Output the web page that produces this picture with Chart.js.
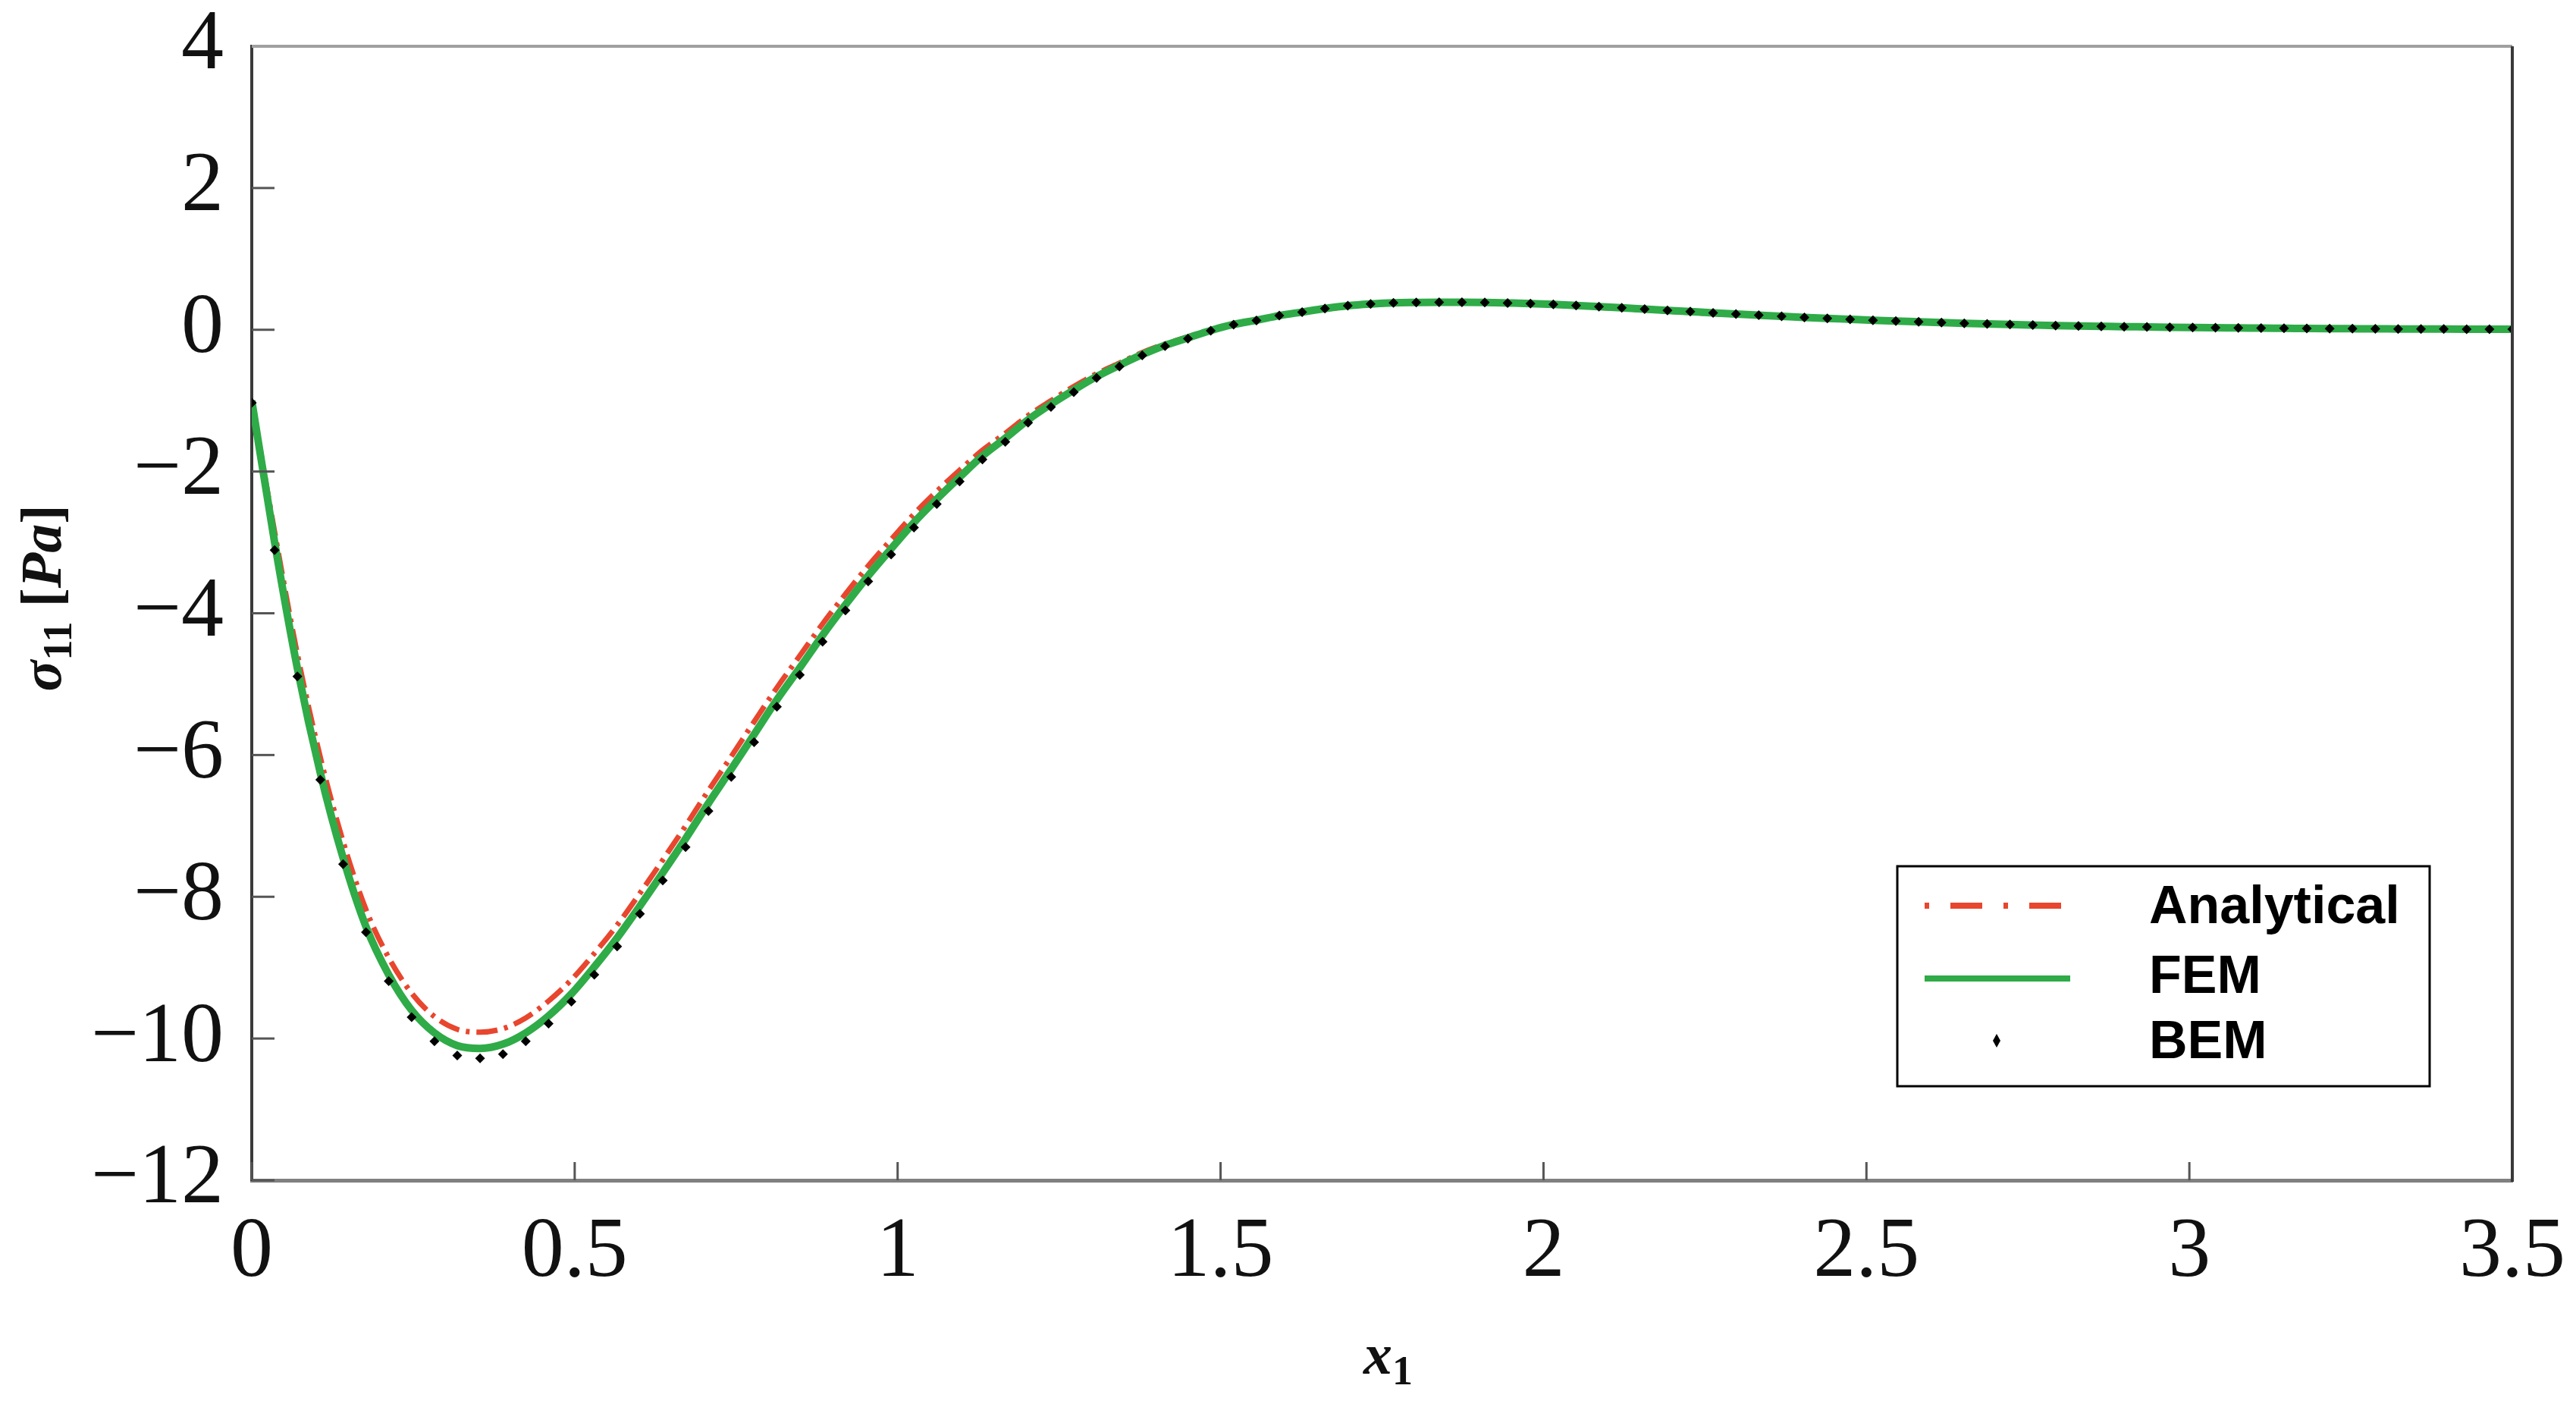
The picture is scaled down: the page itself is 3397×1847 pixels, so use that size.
<!DOCTYPE html>
<html>
<head>
<meta charset="utf-8">
<title>sigma11 along x1</title>
<script src="https://cdn.jsdelivr.net/npm/chart.js@4.4.0/dist/chart.umd.min.js"></script>
<style>
  body { margin: 0; background: #ffffff; }
  #canvas-stress { display: block; }
</style>
</head>
<body>
<canvas id="canvas-stress" width="3397" height="1847"></canvas>
<script>
// sample positions along x1 (BEM nodes, also used for the two curves)
const xPositions = [
    0, 0.0354, 0.0707, 0.1061, 0.1414, 0.1768, 0.2121, 0.2475, 0.2828, 0.3182,
    0.3535, 0.3889, 0.4242, 0.4596, 0.4949, 0.5303, 0.5657, 0.6010, 0.6364, 0.6717,
    0.7071, 0.7424, 0.7778, 0.8131, 0.8485, 0.8838, 0.9192, 0.9545, 0.9899, 1.0253,
    1.0606, 1.0960, 1.1313, 1.1667, 1.2020, 1.2374, 1.2727, 1.3081, 1.3434, 1.3788,
    1.4141, 1.4495, 1.4848, 1.5202, 1.5556, 1.5909, 1.6263, 1.6616, 1.6970, 1.7323,
    1.7677, 1.8030, 1.8384, 1.8737, 1.9091, 1.9444, 1.9798, 2.0152, 2.0505, 2.0859,
    2.1212, 2.1566, 2.1919, 2.2273, 2.2626, 2.2980, 2.3333, 2.3687, 2.4040, 2.4394,
    2.4747, 2.5101, 2.5455, 2.5808, 2.6162, 2.6515, 2.6869, 2.7222, 2.7576, 2.7929,
    2.8283, 2.8636, 2.8990, 2.9343, 2.9697, 3.0051, 3.0404, 3.0758, 3.1111, 3.1465,
    3.1818, 3.2172, 3.2525, 3.2879, 3.3232, 3.3586, 3.3939, 3.4293, 3.4646, 3.5
];

const analyticalValues = [
    -1.00, -2.85, -4.58, -6.03, -7.22, -8.18, -8.86, -9.36, -9.69, -9.87,
    -9.91, -9.86, -9.71, -9.47, -9.17, -8.80, -8.40, -7.95, -7.48, -7.00,
    -6.50, -6.02, -5.53, -5.05, -4.60, -4.15, -3.73, -3.33, -2.96, -2.60,
    -2.28, -1.98, -1.70, -1.46, -1.21, -1.00, -0.80, -0.62, -0.47, -0.32,
    -0.20, -0.10, 0.0, 0.08, 0.14, 0.20, 0.245, 0.29, 0.33, 0.355,
    0.37, 0.377, 0.38, 0.38, 0.377, 0.37, 0.36, 0.347, 0.332, 0.315,
    0.298, 0.28, 0.262, 0.244, 0.227, 0.21, 0.195, 0.18, 0.166, 0.152,
    0.14, 0.128, 0.116, 0.105, 0.095, 0.086, 0.078, 0.07, 0.063, 0.057,
    0.051, 0.046, 0.041, 0.037, 0.033, 0.03, 0.027, 0.024, 0.022, 0.02,
    0.018, 0.016, 0.014, 0.013, 0.012, 0.011, 0.01, 0.009, 0.008, 0.007
];

const femValues = [
    -1.00, -3.00, -4.78, -6.25, -7.45, -8.42, -9.10, -9.60, -9.92, -10.10,
    -10.14, -10.08, -9.92, -9.68, -9.37, -8.99, -8.58, -8.13, -7.66, -7.18,
    -6.68, -6.20, -5.71, -5.22, -4.77, -4.31, -3.88, -3.47, -3.09, -2.72,
    -2.39, -2.08, -1.78, -1.53, -1.27, -1.05, -0.85, -0.66, -0.50, -0.35,
    -0.22, -0.115, -0.01, 0.075, 0.135, 0.20, 0.25, 0.30, 0.34, 0.364,
    0.38, 0.385, 0.388, 0.388, 0.385, 0.378, 0.37, 0.358, 0.343, 0.327,
    0.31, 0.292, 0.274, 0.256, 0.238, 0.222, 0.206, 0.19, 0.175, 0.161,
    0.148, 0.135, 0.123, 0.112, 0.101, 0.091, 0.082, 0.074, 0.067, 0.06,
    0.054, 0.049, 0.044, 0.04, 0.036, 0.032, 0.029, 0.026, 0.023, 0.021,
    0.019, 0.017, 0.015, 0.013, 0.012, 0.011, 0.01, 0.009, 0.008, 0.007
];

const bemValues = [
    -1.03, -3.11, -4.89, -6.35, -7.54, -8.50, -9.19, -9.70, -10.04, -10.24,
    -10.28, -10.22, -10.04, -9.79, -9.48, -9.10, -8.70, -8.24, -7.77, -7.30,
    -6.79, -6.31, -5.82, -5.32, -4.87, -4.40, -3.96, -3.55, -3.17, -2.79,
    -2.46, -2.14, -1.83, -1.58, -1.31, -1.09, -0.88, -0.68, -0.52, -0.36,
    -0.23, -0.125, -0.014, 0.073, 0.13, 0.20, 0.25, 0.30, 0.34, 0.364,
    0.38, 0.385, 0.388, 0.388, 0.385, 0.378, 0.37, 0.358, 0.343, 0.327,
    0.31, 0.292, 0.274, 0.256, 0.238, 0.222, 0.206, 0.19, 0.175, 0.161,
    0.148, 0.135, 0.123, 0.112, 0.101, 0.091, 0.082, 0.074, 0.067, 0.06,
    0.054, 0.049, 0.044, 0.04, 0.036, 0.032, 0.029, 0.026, 0.023, 0.021,
    0.019, 0.017, 0.015, 0.013, 0.012, 0.011, 0.01, 0.009, 0.008, 0.007
];

const xTickValues = [0, 0.5, 1, 1.5, 2, 2.5, 3, 3.5];
const yTickValues = [4, 2, 0, -2, -4, -6, -8, -10, -12];
const seriesLabels = ['Analytical', 'FEM', 'BEM'];

// axis titles, split so the subscripts can be set smaller and lower
const xTitleParts = [{ text: 'x', italic: true }, { text: '1', sub: true }];
const yTitleParts = [{ text: 'σ', italic: true }, { text: '11', sub: true }, { text: ' [', italic: false }, { text: 'Pa', italic: true }, { text: ']', italic: false }];

function toPoints(values) {
    return xPositions.map((x, i) => ({ x: x, y: values[i] }));
}

const redColor = '#e8462e';
const greenColor = '#2fab48';
const serif = '"Liberation Serif", "DejaVu Serif", serif';

function partFont(p) {
    if (p.sub) return 'bold 54px ' + serif;
    return (p.italic ? 'italic ' : '') + 'bold 76px ' + serif;
}

function drawTitle(ctx, parts) {
    let total = 0;
    parts.forEach(p => { ctx.font = partFont(p); total += ctx.measureText(p.text).width; });
    let x = -total / 2;
    parts.forEach(p => {
        ctx.font = partFont(p);
        ctx.fillText(p.text, x, p.sub ? 14 : 0);
        x += ctx.measureText(p.text).width;
    });
}

// box around the axes + inward MATLAB style tick marks + axis titles
const framePlugin = {
    id: 'frame',
    afterDatasetsDraw(chart) {
        const ctx = chart.ctx;
        const a = chart.chartArea;
        const xs = chart.scales.x;
        const ys = chart.scales.y;
        ctx.save();
        ctx.lineWidth = 3;
        ctx.strokeStyle = '#555555';
        xs.ticks.forEach(t => {
            const px = xs.getPixelForValue(t.value);
            ctx.beginPath();
            ctx.moveTo(px, a.bottom);
            ctx.lineTo(px, a.bottom - 24);
            ctx.stroke();
        });
        ys.ticks.forEach(t => {
            const py = ys.getPixelForValue(t.value);
            ctx.beginPath();
            ctx.moveTo(a.left, py);
            ctx.lineTo(a.left + 30, py);
            ctx.stroke();
        });
        ctx.lineWidth = 4;
        ctx.strokeStyle = '#a0a0a0';
        ctx.beginPath();
        ctx.moveTo(a.left, a.top);
        ctx.lineTo(a.right, a.top);
        ctx.stroke();
        ctx.strokeStyle = '#3a3a3a';
        ctx.beginPath();
        ctx.moveTo(a.right, a.top);
        ctx.lineTo(a.right, a.bottom + 2);
        ctx.stroke();

        ctx.fillStyle = '#111111';
        ctx.textBaseline = 'alphabetic';
        ctx.textAlign = 'left';
        ctx.save();
        ctx.translate((a.left + a.right) / 2 + 8, 1811);
        drawTitle(ctx, xTitleParts);
        ctx.restore();
        ctx.save();
        ctx.translate(80, (a.top + a.bottom) / 2 - 20);
        ctx.rotate(-Math.PI / 2);
        drawTitle(ctx, yTitleParts);
        ctx.restore();
        ctx.restore();
    }
};

// legend box inside the plot, bottom right
const legendPlugin = {
    id: 'boxLegend',
    afterDraw(chart) {
        const ctx = chart.ctx;
        const left = 2502, top = 1142, w = 702, h = 290;
        ctx.save();
        ctx.fillStyle = '#ffffff';
        ctx.fillRect(left, top, w, h);
        ctx.lineWidth = 3;
        ctx.strokeStyle = '#000000';
        ctx.strokeRect(left, top, w, h);

        const rows = [1194, 1286, 1372];
        // Analytical sample
        ctx.strokeStyle = redColor;
        ctx.lineWidth = 8;
        ctx.setLineDash([6, 28, 42, 28]);
        ctx.beginPath();
        ctx.moveTo(2538, rows[0]);
        ctx.lineTo(2730, rows[0]);
        ctx.stroke();
        ctx.setLineDash([]);
        // FEM sample
        ctx.strokeStyle = greenColor;
        ctx.lineWidth = 8;
        ctx.beginPath();
        ctx.moveTo(2538, rows[1] + 4);
        ctx.lineTo(2730, rows[1] + 4);
        ctx.stroke();
        // BEM sample
        ctx.fillStyle = '#000000';
        ctx.beginPath();
        ctx.moveTo(2633, rows[2] - 9);
        ctx.lineTo(2638, rows[2]);
        ctx.lineTo(2633, rows[2] + 9);
        ctx.lineTo(2628, rows[2]);
        ctx.closePath();
        ctx.fill();

        ctx.fillStyle = '#000000';
        ctx.font = 'bold 70px "Liberation Sans", Arial, sans-serif';
        ctx.textBaseline = 'middle';
        ctx.textAlign = 'left';
        seriesLabels.forEach((label, i) => {
            ctx.fillText(label, 2834, rows[i] + 4);
        });
        ctx.restore();
    }
};

const canvas = document.getElementById('canvas-stress');
var ctx = canvas.getContext('2d');

new Chart(ctx, {
    type: 'line',
    data: {
        datasets: [{
            label: seriesLabels[0],
            data: toPoints(analyticalValues),
            borderColor: redColor,
            borderWidth: 7,
            borderDash: [28, 9, 5, 9],
            pointRadius: 0,
            cubicInterpolationMode: 'monotone',
            order: 3
        }, {
            label: seriesLabels[1],
            data: toPoints(femValues),
            borderColor: greenColor,
            borderWidth: 10,
            pointRadius: 0,
            cubicInterpolationMode: 'monotone',
            order: 2
        }, {
            label: seriesLabels[2],
            data: toPoints(bemValues),
            showLine: false,
            pointStyle: 'rectRot',
            pointRadius: 6.5,
            pointBorderWidth: 0,
            pointBackgroundColor: '#000000',
            borderColor: '#000000',
            order: 1
        }]
    },
    options: {
        responsive: false,
        animation: false,
        layout: {
            padding: { top: 61, right: 84, left: 0, bottom: 0 }
        },
        plugins: {
            legend: { display: false },
            tooltip: { enabled: false }
        },
        scales: {
            x: {
                type: 'linear',
                min: 0,
                max: 3.5,
                afterFit: s => { s.height = 291; s.paddingLeft = 0; s.paddingRight = 0; },
                afterBuildTicks: s => { s.ticks = xTickValues.map(v => ({ value: v })); },
                grid: { display: false, drawTicks: false },
                border: { display: true, color: '#808080', width: 5 },
                ticks: {
                    color: '#111111',
                    padding: 29,
                    maxRotation: 0,
                    autoSkip: false,
                    font: { family: serif, size: 112, lineHeight: 1.2 },
                    callback: v => String(v)
                }
            },
            y: {
                min: -12,
                max: 4,
                afterFit: s => { s.width = 332; s.paddingTop = 0; s.paddingBottom = 0; },
                afterBuildTicks: s => { s.ticks = yTickValues.map(v => ({ value: v })); },
                grid: { display: false, drawTicks: false },
                border: { display: true, color: '#3a3a3a', width: 4 },
                ticks: {
                    color: '#111111',
                    padding: 37,
                    autoSkip: false,
                    font: { family: serif, size: 112, lineHeight: 1.2 },
                    callback: v => (v < 0 ? '\u2212' + Math.abs(v) : String(v))
                }
            }
        }
    },
    plugins: [framePlugin, legendPlugin]
});
</script>
</body>
</html>
